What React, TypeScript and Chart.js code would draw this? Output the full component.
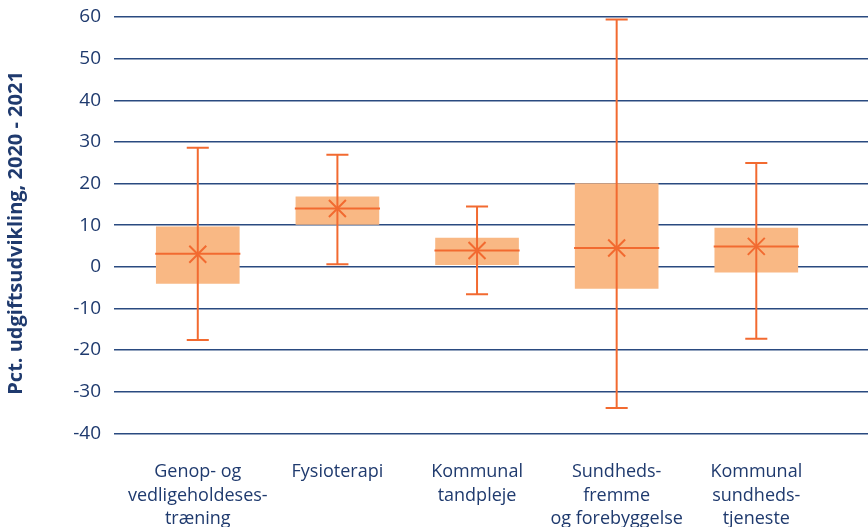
import React, { useEffect, useRef } from "react";
import { Chart, registerables } from "chart.js";

Chart.register(...registerables);

const categories: string[][] = [
  ["Genop- og", "vedligeholdeses-", "træning"],
  ["Fysioterapi"],
  ["Kommunal", "tandpleje"],
  ["Sundheds-", "fremme", "og forebyggelse"],
  ["Kommunal", "sundheds-", "tjeneste"],
];
const positions = [1, 2, 3, 4, 5];
const whiskerLow = [-17.6, 0.6, -6.6, -33.9, -17.3];
const whiskerHigh = [28.6, 26.9, 14.5, 59.4, 24.9];
const q1 = [-4.0, 10.2, 0.5, -5.2, -1.3];
const q3 = [9.6, 16.8, 6.9, 20.0, 9.3];
const median = [3.1, 14.0, 3.9, 4.5, 4.9];
const mean = [3.0, 14.0, 3.9, 4.5, 4.9];
const yTicks = [-40, -30, -20, -10, 0, 10, 20, 30, 40, 50, 60];
const yTitle = "Pct. udgiftsudvikling, 2020 - 2021";

const NAVY = "#1f3a6e";
const GRID = "#2a4a80";
const BOX = "#f9b884";
const LINE = "#f26a30";
const FONT = "'Open Sans', sans-serif";

const CAP_HALF = 0.079;
const MED_HALF = 0.305;

function segments(xs: number[], lows: number[], highs: number[], dx0: number, dx1: number, vertical: boolean) {
  const out: { x: number; y: number | null }[] = [];
  xs.forEach((x, i) => {
    if (vertical) {
      out.push({ x, y: lows[i] });
      out.push({ x, y: highs[i] });
    } else {
      out.push({ x: x - dx0, y: lows[i] });
      out.push({ x: x + dx1, y: lows[i] });
    }
    out.push({ x, y: null });
  });
  return out;
}

export default function App() {
  const ref = useRef<HTMLCanvasElement | null>(null);
  useEffect(() => {
    if (!ref.current) return;
    const capData = [
      ...segments(positions, whiskerHigh, whiskerHigh, CAP_HALF, CAP_HALF, false),
      ...segments(positions, whiskerLow, whiskerLow, CAP_HALF, CAP_HALF, false),
    ];
    const lineCommon = {
      type: "line" as const,
      borderColor: LINE,
      borderWidth: 2,
      pointRadius: 0,
      spanGaps: false,
      fill: false,
    };
    const chart = new Chart(ref.current, {
      type: "bar",
      data: {
        datasets: [
          {
            type: "bar",
            data: positions.map((x, i) => ({ x, y: [q1[i], q3[i]] })) as any,
            backgroundColor: BOX,
            borderWidth: 0,
            barThickness: 83,
            order: 10,
          },
          {
            ...lineCommon,
            data: segments(positions, whiskerLow, whiskerHigh, 0, 0, true) as any,
            order: 5,
          },
          {
            ...lineCommon,
            data: capData as any,
            order: 4,
          },
          {
            ...lineCommon,
            data: segments(positions, median, median, MED_HALF, MED_HALF, false) as any,
            order: 3,
          },
          {
            type: "scatter",
            data: positions.map((x, i) => ({ x, y: mean[i] })),
            pointStyle: "crossRot",
            pointRadius: 12,
            pointBorderColor: LINE,
            pointBorderWidth: 2,
            borderColor: LINE,
            order: 1,
          } as any,
        ],
      },
      options: {
        responsive: false,
        animation: false,
        layout: { autoPadding: false, padding: { top: 17, right: 0, bottom: 0, left: 0 } },
        plugins: { legend: { display: false }, tooltip: { enabled: false } },
        scales: {
          x: {
            type: "linear",
            offset: false,
            min: 0.4,
            max: 5.8,
            grid: { display: false, drawTicks: false },
            border: { display: false },
            afterBuildTicks: (scale: any) => {
              scale.ticks = positions.map((v) => ({ value: v }));
            },
            afterFit: (scale: any) => {
              scale.height = 527 - 433.3;
              scale.paddingLeft = 0;
              scale.paddingRight = 0;
            },
            ticks: {
              autoSkip: false,
              maxRotation: 0,
              padding: 27,
              color: NAVY,
              font: { family: FONT, size: 18, lineHeight: 1.3 },
              callback: (v: any) => categories[positions.indexOf(Number(v))] ?? "",
            },
          },
          y: {
            type: "linear",
            min: -40,
            max: 60,
            afterBuildTicks: (scale: any) => {
              scale.ticks = yTicks.map((v) => ({ value: v }));
            },
            afterFit: (scale: any) => {
              scale.width = 114;
              scale.paddingTop = 0;
              scale.paddingBottom = 0;
            },
            grid: { color: GRID, lineWidth: 1.5, drawTicks: false },
            border: { display: false },
            ticks: {
              padding: 13,
              color: NAVY,
              font: { family: FONT, size: 19 },
            },
            title: {
              display: true,
              text: yTitle + "   ",
              color: NAVY,
              font: { family: FONT, size: 20, weight: "bold" },
              padding: { top: 4, bottom: 0 },
            },
          },
        },
      },
    });
    return () => chart.destroy();
  }, []);
  return (
    <div style={{ position: "fixed", left: 0, top: 0, width: 868, height: 527, background: "#fff" }}>
      <canvas ref={ref} width={868} height={527} style={{ display: "block" }} />
    </div>
  );
}
